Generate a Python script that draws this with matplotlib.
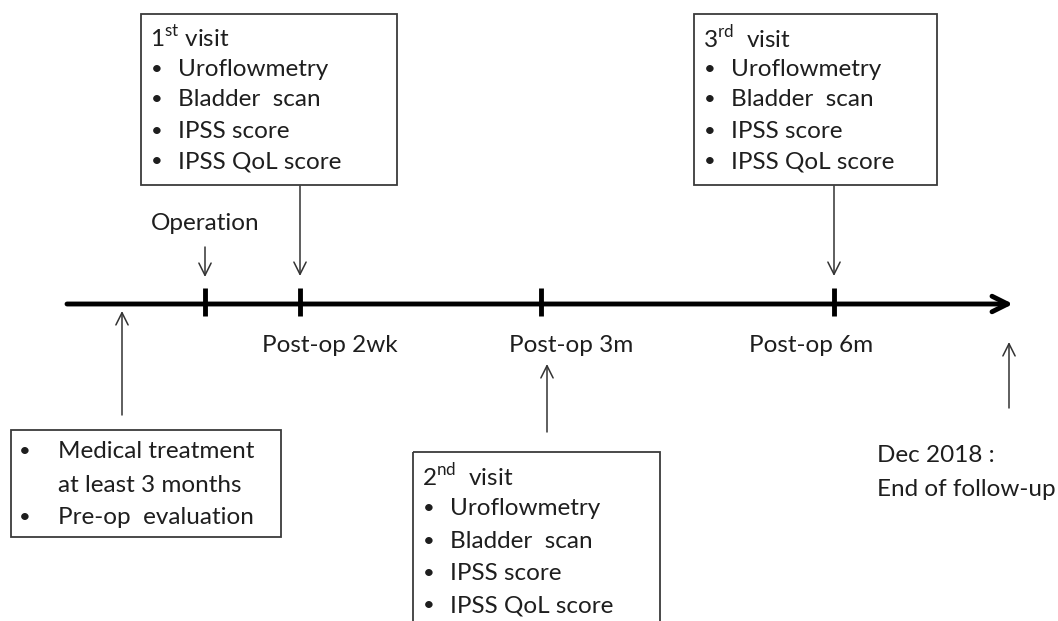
import matplotlib.pyplot as plt
from matplotlib.patches import Rectangle

plt.rcParams['font.family'] = ['Lato', 'DejaVu Sans']
plt.rcParams['mathtext.fontset'] = 'custom'
plt.rcParams['mathtext.rm'] = 'Lato'

# text content
visit_items = ['Uroflowmetry', 'Bladder  scan', 'IPSS score', 'IPSS QoL score']
visit_titles = ['1$^{\\mathrm{st}}$ visit', '2$^{\\mathrm{nd}}$  visit', '3$^{\\mathrm{rd}}$  visit']
timeline_labels = ['Post-op 2wk', 'Post-op 3m', 'Post-op 6m']
pre_items = ['Medical treatment\nat least 3 months', 'Pre-op  evaluation']
end_label = ['Dec 2018 :', 'End of follow-up']
op_label = 'Operation'

txt = '#1e1e1e'
fs = 17.5
fs_box = 17.5

fig = plt.figure(figsize=(10.58, 6.21), dpi=100)
ax = fig.add_axes([0, 0, 1, 1])
ax.set_xlim(0, 1058)
ax.set_ylim(621, 0)
ax.axis('off')

# main timeline
ax.annotate('', xy=(1013, 304), xytext=(67, 304),
            arrowprops=dict(arrowstyle='->', lw=3.5, color='black', mutation_scale=28,
                            shrinkA=0, shrinkB=0))
tick_x = [205, 300, 541, 834]
for x in tick_x:
    ax.plot([x, x], [288, 316], color='black', lw=3.5, solid_capstyle='butt')

def thin_arrow(x, y0, y1):
    ax.annotate('', xy=(x, y1), xytext=(x, y0),
                arrowprops=dict(arrowstyle='->', lw=1.1, color='#333333', mutation_scale=22,
                                shrinkA=0, shrinkB=0))

thin_arrow(205, 247, 277)
thin_arrow(300, 186, 276)
thin_arrow(834, 186, 276)
thin_arrow(122, 415, 311)
thin_arrow(547, 432, 364)
thin_arrow(1009, 408, 342)

ax.text(205, 224, op_label, ha='center', va='center', fontsize=fs, color=txt)
for x, lab in zip([330, 571, 811], timeline_labels):
    ax.text(x, 346, lab, ha='center', va='center', fontsize=fs, color=txt)

def box(x0, y0, x1, y1):
    ax.add_patch(Rectangle((x0, y0), x1 - x0, y1 - y0, fill=False,
                           edgecolor='#3a3a3a', lw=1.3, clip_on=False))

def visit_box(x0, y0, x1, y1, title, dy=31.5):
    box(x0, y0, x1, y1)
    ax.text(x0 + 9, y0 + 24, title, ha='left', va='center', fontsize=fs_box, color=txt)
    for i, item in enumerate(visit_items):
        yy = y0 + 24 + dy * (i + 1)
        ax.text(x0 + 16, yy, '•', ha='center', va='center', fontsize=fs - 3, color=txt)
        ax.text(x0 + 37, yy, item, ha='left', va='center', fontsize=fs_box, color=txt)

visit_box(141, 14, 397, 185, visit_titles[0], dy=31)
visit_box(413, 452, 660, 640, visit_titles[1], dy=32.5)
visit_box(694, 14, 937, 185, visit_titles[2], dy=31)

# pre-op box
box(11, 430, 281, 537)
ys = [452, 485, 517]
ax.text(25, ys[0], '•', ha='center', va='center', fontsize=fs - 3, color=txt)
ax.text(58, ys[0], pre_items[0].split('\n')[0], ha='left', va='center', fontsize=fs_box, color=txt)
ax.text(58, ys[1], pre_items[0].split('\n')[1], ha='left', va='center', fontsize=fs_box, color=txt)
ax.text(25, ys[2], '•', ha='center', va='center', fontsize=fs - 3, color=txt)
ax.text(58, ys[2], pre_items[1], ha='left', va='center', fontsize=fs_box, color=txt)

# end of follow-up
ax.text(877, 456, end_label[0], ha='left', va='center', fontsize=fs, color=txt)
ax.text(877, 490, end_label[1], ha='left', va='center', fontsize=fs, color=txt)

fig.savefig('out.png', dpi=100, facecolor='white')
